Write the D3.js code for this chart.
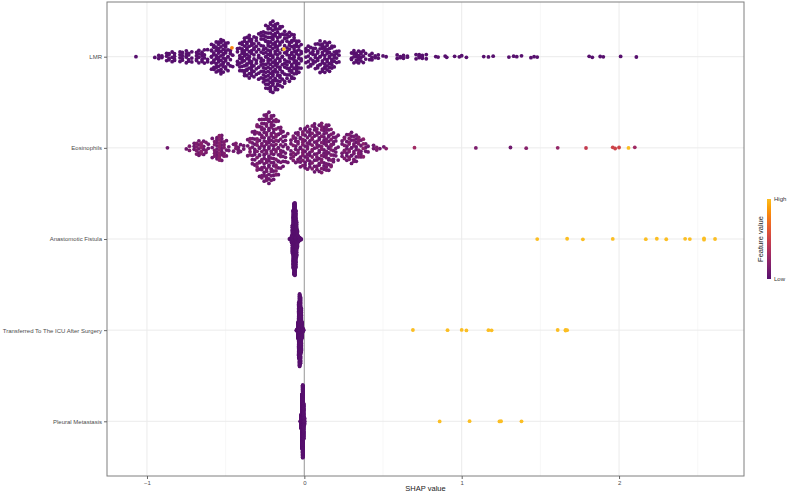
<!DOCTYPE html>
<html>
<head>
<meta charset="utf-8">
<script src="https://cdn.jsdelivr.net/npm/d3@7"></script>
<style>
  body { margin: 0; background: #fff; }
  text { font-family: "Liberation Sans", Arial, sans-serif; }
</style>
</head>
<body>
<div id="chart"></div>
<script>
// features, top to bottom
const features = ["LMR", "Eosinophils", "Anastomotic Fistula", "Transferred To The ICU After Surgery", "Pleural Metastasis"];

// each entry: [SHAP value, number of points at that value, feature value (0 = low, 1 = high)]
const lmr = [
  [-1.07, 1, 0], [-0.95, 1, 0], [-0.925, 2, 0], [-0.905, 2, 0], [-0.875, 3, 0], [-0.86, 4, 0], [-0.84, 3, 0], [-0.825, 4, 0],
  [-0.79, 4, 0], [-0.775, 4, 0], [-0.75, 5, 0], [-0.735, 4, 0], [-0.715, 3, 0], [-0.685, 4, 0], [-0.67, 4, 0], [-0.65, 5, 0],
  [-0.635, 4, 0], [-0.615, 3, 0],
  [-0.59, 7, 0], [-0.575, 8, 0], [-0.56, 9, 0], [-0.545, 10, 0], [-0.53, 10, 0], [-0.515, 10, 0], [-0.5, 9, 0], [-0.485, 7, 0],
  [-0.47, 4, 0], [-0.455, 2, 0],
  [-0.425, 4, 0], [-0.41, 7, 0], [-0.395, 10, 0], [-0.38, 11, 0], [-0.365, 12, 0], [-0.35, 12, 0], [-0.335, 11, 0], [-0.32, 9, 0],
  [-0.305, 8, 0], [-0.29, 8, 0],
  [-0.275, 10, 0], [-0.26, 13, 0], [-0.245, 16, 0], [-0.23, 18, 0], [-0.215, 19, 0], [-0.2, 19, 0], [-0.185, 19, 0], [-0.17, 18, 0],
  [-0.155, 15, 0], [-0.14, 12, 0], [-0.125, 11, 0],
  [-0.11, 11, 0], [-0.095, 12, 0], [-0.08, 13, 0], [-0.065, 13, 0], [-0.05, 11, 0], [-0.035, 8, 0], [-0.02, 6, 0],
  [0.01, 4, 0], [0.025, 5, 0], [0.04, 5, 0], [0.055, 5, 0], [0.07, 6, 0], [0.085, 7, 0], [0.1, 8, 0], [0.115, 9, 0], [0.13, 9, 0],
  [0.145, 9, 0], [0.16, 8, 0], [0.175, 7, 0], [0.19, 6, 0], [0.205, 4, 0], [0.22, 3, 0],
  [0.3, 3, 0], [0.315, 4, 0], [0.33, 5, 0], [0.345, 5, 0], [0.36, 4, 0], [0.375, 3, 0], [0.39, 2, 0],
  [0.415, 2, 0], [0.43, 3, 0], [0.45, 2, 0], [0.47, 2, 0], [0.5, 1, 0], [0.52, 1, 0],
  [0.59, 2, 0], [0.61, 2, 0], [0.63, 2, 0], [0.655, 2, 0], [0.71, 2, 0], [0.73, 3, 0], [0.75, 3, 0], [0.775, 2, 0],
  [0.835, 1, 0], [0.85, 1, 0], [0.895, 1, 0], [0.905, 1, 0], [0.955, 1, 0], [0.985, 1, 0], [1.0, 1, 0], [1.03, 1, 0],
  [1.14, 1, 0], [1.17, 1, 0], [1.2, 1, 0], [1.3, 1, 0], [1.33, 1, 0], [1.35, 1, 0], [1.38, 1, 0], [1.44, 1, 0], [1.46, 1, 0],
  [1.48, 1, 0], [1.81, 1, 0], [1.83, 1, 0], [1.88, 1, 0], [1.9, 1, 0], [2.01, 1, 0], [2.11, 1, 0],
  [-0.46, 1, 0.8], [-0.13, 1, 1]
];

const eosinophils = [
  [-0.87, 1, 0.1], [-0.75, 1, 0.1], [-0.73, 2, 0.15],
  [-0.7, 3, 0.1], [-0.685, 4, 0.15], [-0.67, 5, 0.1], [-0.655, 5, 0.2], [-0.64, 4, 0.1], [-0.625, 3, 0.15], [-0.61, 2, 0.1],
  [-0.585, 3, 0.1], [-0.57, 5, 0.15], [-0.555, 8, 0.1], [-0.54, 10, 0.2], [-0.525, 8, 0.1], [-0.51, 5, 0.15], [-0.495, 3, 0.1],
  [-0.48, 2, 0.1],
  [-0.45, 2, 0.1], [-0.435, 3, 0.15], [-0.42, 3, 0.1], [-0.405, 2, 0.1], [-0.385, 2, 0.1],
  [-0.36, 3, 0.1], [-0.345, 5, 0.15], [-0.33, 7, 0.1], [-0.315, 9, 0.08], [-0.3, 11, 0.15], [-0.285, 13, 0.08], [-0.27, 15, 0.12],
  [-0.255, 17, 0.08], [-0.24, 18, 0.12], [-0.225, 18, 0.08], [-0.21, 17, 0.12], [-0.195, 16, 0.08], [-0.18, 14, 0.15],
  [-0.165, 12, 0.08], [-0.15, 10, 0.12], [-0.135, 8, 0.08], [-0.12, 6, 0.1], [-0.105, 4, 0.1],
  [-0.085, 5, 0.1], [-0.07, 6, 0.15], [-0.055, 7, 0.08], [-0.04, 8, 0.12], [-0.025, 9, 0.08], [-0.01, 10, 0.15], [0.005, 10, 0.08],
  [0.02, 10, 0.12], [0.035, 10, 0.08], [0.05, 10, 0.15], [0.065, 10, 0.08], [0.08, 11, 0.12], [0.095, 11, 0.08], [0.11, 12, 0.15],
  [0.125, 12, 0.08], [0.14, 13, 0.12], [0.155, 12, 0.08], [0.17, 10, 0.15], [0.185, 8, 0.1], [0.2, 5, 0.1], [0.215, 3, 0.1],
  [0.24, 4, 0.1], [0.255, 6, 0.15], [0.27, 7, 0.08], [0.285, 8, 0.15], [0.3, 8, 0.08], [0.315, 8, 0.12], [0.33, 7, 0.08],
  [0.345, 6, 0.15], [0.36, 5, 0.1], [0.375, 4, 0.2], [0.39, 3, 0.1], [0.405, 2, 0.1],
  [0.44, 2, 0.1], [0.46, 2, 0.15], [0.48, 1, 0.1], [0.505, 1, 0.1], [0.52, 1, 0.2],
  [0.7, 1, 0.3], [1.09, 1, 0.15], [1.31, 1, 0.1], [1.41, 1, 0.2], [1.61, 1, 0.25], [1.79, 1, 0.45], [1.96, 1, 0.5],
  [1.975, 1, 0.5], [2.0, 1, 0.5], [2.06, 1, 1], [2.1, 1, 0.3]
];

const anastomoticFistula = [
  [-0.095, 1, 0], [-0.09, 2, 0], [-0.085, 4, 0], [-0.08, 10, 0], [-0.075, 40, 0], [-0.07, 80, 0], [-0.065, 100, 0],
  [-0.06, 100, 0], [-0.055, 80, 0], [-0.05, 50, 0], [-0.045, 25, 0], [-0.04, 10, 0], [-0.035, 6, 0], [-0.03, 4, 0],
  [-0.025, 3, 0], [-0.02, 2, 0],
  [1.48, 1, 1], [1.67, 1, 1], [1.77, 1, 1], [1.96, 1, 1], [2.17, 1, 1], [2.24, 1, 1], [2.3, 1, 1], [2.42, 1, 1],
  [2.45, 1, 1], [2.54, 2, 1], [2.61, 1, 1]
];

const icuAfterSurgery = [
  [-0.05, 2, 0], [-0.045, 5, 0], [-0.04, 30, 0], [-0.035, 100, 0], [-0.03, 130, 0], [-0.025, 120, 0], [-0.02, 80, 0],
  [-0.015, 30, 0], [-0.01, 8, 0], [-0.005, 3, 0],
  [0.69, 1, 1], [0.91, 1, 1], [1.0, 1, 1], [1.03, 1, 1], [1.17, 1, 1], [1.19, 1, 1], [1.61, 1, 1], [1.66, 2, 1], [1.67, 1, 1]
];

const pleuralMetastasis = [
  [-0.025, 3, 0], [-0.02, 40, 0], [-0.015, 150, 0], [-0.01, 200, 0], [-0.005, 100, 0], [0.0, 20, 0],
  [0.86, 1, 1], [1.05, 1, 1], [1.24, 1, 1], [1.25, 1, 1], [1.38, 1, 1]
];

const groups = [lmr, eosinophils, anastomoticFistula, icuAfterSurgery, pleuralMetastasis];
const xTicks = [-1, 0, 1, 2];
const xMinor = [-0.5, 0.5, 1.5, 2.5];
const legendLabels = ["Low", "High"];

const width = 787, height = 493;
const margin = { top: 2, right: 43, bottom: 17, left: 107 };
const innerW = width - margin.left - margin.right;
const innerH = height - margin.top - margin.bottom;

const colorOf = t => d3.interpolateInferno(0.25 + 0.6 * t);

// expand groups into one row per point
const points = [];
groups.forEach((g, fi) => {
  g.forEach(([v, n, t]) => {
    for (let k = 0; k < n; k++) points.push({ feature: features[fi], value: v, fv: t });
  });
});

// halton (van der Corput, base 2)
function halton(i) {
  let f = 1, r = 0;
  while (i > 0) { f /= 2; r += f * (i % 2); i = Math.floor(i / 2); }
  return r;
}

// beeswarm offsets: density-scaled halton shifts (same idea as shapviz position_bee)
function beeShift(xs) {
  const n = xs.length;
  if (n < 2) return xs.map(() => 0);
  const sorted = xs.slice().sort(d3.ascending);
  const sd = d3.deviation(xs);
  const iqr = d3.quantile(sorted, 0.75) - d3.quantile(sorted, 0.25);
  let lo = Math.min(sd, iqr / 1.34);
  if (!(lo > 0)) lo = sd || 1;
  const bw = 0.5 * 0.9 * lo * Math.pow(n, -0.2);
  const dens = xs.map(x => d3.sum(xs, v => Math.exp(-0.5 * ((x - v) / bw) ** 2)));
  const mx = d3.max(dens);
  const order = d3.range(n).sort((a, b) => xs[a] - xs[b] || a - b);
  const rank = new Array(n);
  order.forEach((idx, r) => (rank[idx] = r + 1));
  return xs.map((x, i) => 2 * (halton(rank[i]) - 0.5) * dens[i] / mx);
}

const svg = d3.select("#chart").append("svg")
  .attr("width", width)
  .attr("height", height);

const ext = d3.extent(points, d => d.value);
const pad = (ext[1] - ext[0]) * 0.05;
const x = d3.scaleLinear()
  .domain([ext[0] - pad, ext[1] + pad])
  .range([margin.left, margin.left + innerW]);

const y = d3.scalePoint()
  .domain(features)
  .range([margin.top, margin.top + innerH])
  .padding(0.6);

const beeW = 0.4 * y.step();

features.forEach(f => {
  const pts = points.filter(d => d.feature === f);
  const s = beeShift(pts.map(d => d.value));
  pts.forEach((d, i) => (d.shift = s[i]));
});

// grid
const grid = svg.append("g");
grid.selectAll(".minor").data(xMinor.filter(v => v > x.domain()[0] && v < x.domain()[1]))
  .join("line")
  .attr("x1", d => x(d)).attr("x2", d => x(d))
  .attr("y1", margin.top).attr("y2", margin.top + innerH)
  .attr("stroke", "#f2f2f2").attr("stroke-width", 0.6);
grid.selectAll(".major").data(xTicks)
  .join("line")
  .attr("x1", d => x(d)).attr("x2", d => x(d))
  .attr("y1", margin.top).attr("y2", margin.top + innerH)
  .attr("stroke", "#ebebeb").attr("stroke-width", 1);
grid.selectAll(".hmajor").data(features)
  .join("line")
  .attr("x1", margin.left).attr("x2", margin.left + innerW)
  .attr("y1", d => y(d)).attr("y2", d => y(d))
  .attr("stroke", "#ebebeb").attr("stroke-width", 1);

// zero line
svg.append("line")
  .attr("x1", x(0)).attr("x2", x(0))
  .attr("y1", margin.top).attr("y2", margin.top + innerH)
  .attr("stroke", "#a9a9a9").attr("stroke-width", 1.2);

// points
svg.append("g")
  .selectAll("circle")
  .data(points.slice().sort((a, b) => a.fv - b.fv))
  .join("circle")
  .attr("cx", d => x(d.value))
  .attr("cy", d => y(d.feature) - d.shift * beeW)
  .attr("r", 1.9)
  .attr("fill", d => colorOf(d.fv));

// panel border
svg.append("rect")
  .attr("x", margin.left).attr("y", margin.top)
  .attr("width", innerW).attr("height", innerH)
  .attr("fill", "none")
  .attr("stroke", "#7f7f7f").attr("stroke-width", 1);

// axes
const xAxis = svg.append("g")
  .attr("transform", `translate(0,${margin.top + innerH})`)
  .call(d3.axisBottom(x).tickValues(xTicks).tickSize(3).tickPadding(2).tickFormat(d3.format("d")));
const yAxis = svg.append("g")
  .attr("transform", `translate(${margin.left},0)`)
  .call(d3.axisLeft(y).tickSize(3).tickPadding(2));
[xAxis, yAxis].forEach(a => {
  a.select(".domain").remove();
  a.selectAll(".tick line").attr("stroke", "#666");
  a.selectAll(".tick text").style("fill", "#4d4d4d").style("font-size", "6px")
    .style("font-family", "Liberation Sans, Arial, sans-serif");
});

svg.append("text")
  .attr("x", margin.left + innerW / 2)
  .attr("y", 491)
  .attr("text-anchor", "middle")
  .style("font-size", "7.5px")
  .style("fill", "#222")
  .text("SHAP value");

// legend
const lg = { x: 767, y: 199, w: 4, h: 80 };
const defs = svg.append("defs");
const grad = defs.append("linearGradient")
  .attr("id", "fv-grad")
  .attr("x1", 0).attr("y1", 1).attr("x2", 0).attr("y2", 0);
grad.selectAll("stop")
  .data(d3.range(0, 1.001, 0.1))
  .join("stop")
  .attr("offset", d => d)
  .attr("stop-color", d => colorOf(d));
svg.append("rect")
  .attr("x", lg.x).attr("y", lg.y)
  .attr("width", lg.w).attr("height", lg.h)
  .attr("fill", "url(#fv-grad)");
const legendY = d3.scaleLinear().domain([0, 1]).range([lg.y + lg.h, lg.y]);
svg.selectAll(".lgl")
  .data(legendLabels)
  .join("text")
  .attr("x", lg.x + lg.w + 3)
  .attr("y", (d, i) => legendY(i))
  .attr("dy", "0.35em")
  .style("font-size", "6px")
  .style("fill", "#333")
  .text(d => d);
svg.append("text")
  .attr("transform", `translate(${lg.x - 4},${lg.y + lg.h / 2}) rotate(-90)`)
  .attr("text-anchor", "middle")
  .style("font-size", "7.5px")
  .style("fill", "#222")
  .text("Feature value");
</script>
</body>
</html>
